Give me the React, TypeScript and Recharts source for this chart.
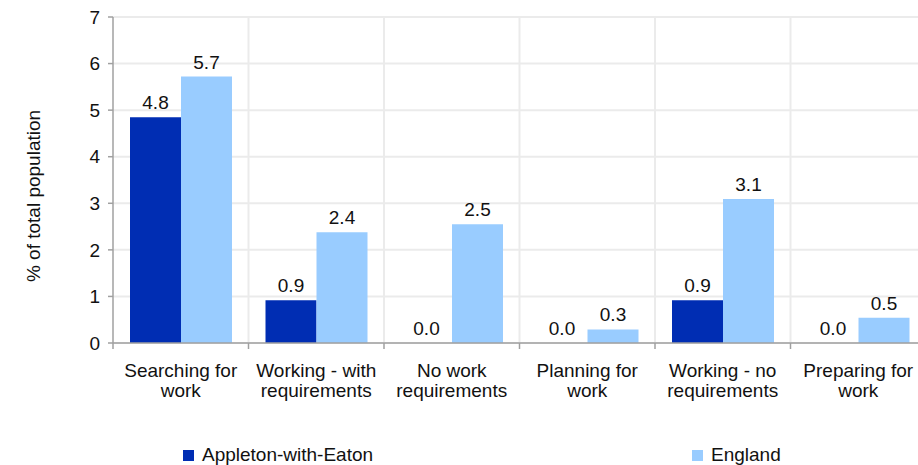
import React from 'react';
import {
  Bar,
  BarChart,
  CartesianGrid,
  LabelList,
  Legend,
  XAxis,
  YAxis,
} from 'recharts';

const categories = [
  'Searching for work',
  'Working - with requirements',
  'No work requirements',
  'Planning for work',
  'Working - no requirements',
  'Preparing for work',
];
const appletonValues = [4.85, 0.92, 0, 0, 0.92, 0];
const englandValues = [5.72, 2.38, 2.55, 0.29, 3.09, 0.54];
const yTicks = [0, 1, 2, 3, 4, 5, 6, 7];

const seriesNames = { appleton: 'Appleton-with-Eaton', england: 'England' };
const colors = { appleton: '#002DB3', england: '#99CCFF' };

const data = categories.map((name, i) => ({
  name,
  appleton: appletonValues[i],
  england: englandValues[i],
}));

const CHART_W = 930;
const CHART_H = 465;
const MARGIN = { top: 17, right: 4, left: 0, bottom: 0 };
const Y_AXIS_W = 113;
const X_AXIS_H = 122;
const PLOT_W = CHART_W - MARGIN.left - MARGIN.right - Y_AXIS_W;
const BAND = PLOT_W / categories.length;
const AXIS_Y = CHART_H - MARGIN.bottom - X_AXIS_H;

const FONT = "Arial, 'Liberation Sans', sans-serif";
const FONT_SIZE = 19;
const TEXT_COLOR = '#111';
const AXIS_COLOR = '#a0a0a0';
const GRID_COLOR = '#ebebeb';

// the last word goes on its own line, like the original labels
const splitLabel = (label: string) => {
  const words = label.split(' ');
  return [words.slice(0, -1).join(' '), words[words.length - 1]];
};

const CategoryTick = (props: any) => {
  const { x, payload, index } = props;
  const last = index === categories.length - 1;
  const lines = splitLabel(String(payload.value));
  return (
    <g>
      <line x1={x - BAND / 2} x2={x - BAND / 2} y1={AXIS_Y} y2={AXIS_Y + 6} stroke={AXIS_COLOR} strokeWidth={1.5} />
      {last && (
        <line x1={x + BAND / 2} x2={x + BAND / 2} y1={AXIS_Y} y2={AXIS_Y + 6} stroke={AXIS_COLOR} strokeWidth={1.5} />
      )}
      <text x={x} y={377} textAnchor="middle" fontSize={FONT_SIZE} fontFamily={FONT} fill={TEXT_COLOR}>
        {lines.map((line, i) => (
          <tspan key={i} x={x} dy={i === 0 ? 0 : 20}>
            {line}
          </tspan>
        ))}
      </text>
    </g>
  );
};

const LegendContent = () => (
  <div style={{ position: 'relative', height: 24, fontFamily: FONT, fontSize: FONT_SIZE, color: TEXT_COLOR }}>
    {[
      { key: 'appleton', left: 183 },
      { key: 'england', left: 692 },
    ].map((item) => (
      <div key={item.key} style={{ position: 'absolute', left: item.left, top: 0, display: 'flex', alignItems: 'center', whiteSpace: 'nowrap' }}>
        <span style={{ display: 'inline-block', width: 11, height: 11, background: colors[item.key as 'appleton'], marginRight: 8 }} />
        <span style={{ lineHeight: '24px' }}>{seriesNames[item.key as 'appleton']}</span>
      </div>
    ))}
  </div>
);

const YLabel = () => (
  <text
    x={40}
    y={196}
    transform="rotate(-90 40 196)"
    textAnchor="middle"
    fontSize={FONT_SIZE}
    fontFamily={FONT}
    fill={TEXT_COLOR}
  >
    % of total population
  </text>
);

const fmt = (v: any) => Number(v).toFixed(1);

export default function App() {
  return (
    <div style={{ position: 'absolute', left: 0, top: 0, width: 918, height: 465, overflow: 'hidden', background: '#fff' }}>
      <BarChart
        width={CHART_W}
        height={CHART_H}
        data={data}
        margin={MARGIN}
        barCategoryGap={17}
        barGap={0}
      >
        <CartesianGrid
          stroke={GRID_COLOR}
          strokeWidth={2}
          verticalCoordinatesGenerator={({ offset }: any) =>
            categories.map((_, i) => offset.left + (i + 1) * (offset.width / categories.length))
          }
        />
        <XAxis
          dataKey="name"
          interval={0}
          height={X_AXIS_H}
          tickLine={false}
          axisLine={{ stroke: AXIS_COLOR, strokeWidth: 1.5 }}
          tick={<CategoryTick />}
        />
        <YAxis
          width={Y_AXIS_W}
          domain={[0, 7]}
          ticks={yTicks}
          interval={0}
          tickSize={5}
          tickMargin={8}
          axisLine={{ stroke: AXIS_COLOR, strokeWidth: 1.5 }}
          tickLine={{ stroke: AXIS_COLOR, strokeWidth: 1.5 }}
          tick={{ fontSize: FONT_SIZE, fontFamily: FONT, fill: TEXT_COLOR }}
          label={<YLabel />}
        />
        <Legend
          layout="horizontal"
          verticalAlign="middle"
          align="center"
          content={<LegendContent />}
          wrapperStyle={{ left: 0, top: 443, width: 918, height: 24 }}
        />
        <Bar dataKey="appleton" name={seriesNames.appleton} fill={colors.appleton} minPointSize={0.01} isAnimationActive={false}>
          <LabelList dataKey="appleton" position="top" offset={8} formatter={fmt} fontSize={FONT_SIZE} fontFamily={FONT} fill={TEXT_COLOR} />
        </Bar>
        <Bar dataKey="england" name={seriesNames.england} fill={colors.england} minPointSize={0.01} isAnimationActive={false}>
          <LabelList dataKey="england" position="top" offset={8} formatter={fmt} fontSize={FONT_SIZE} fontFamily={FONT} fill={TEXT_COLOR} />
        </Bar>
      </BarChart>
    </div>
  );
}
